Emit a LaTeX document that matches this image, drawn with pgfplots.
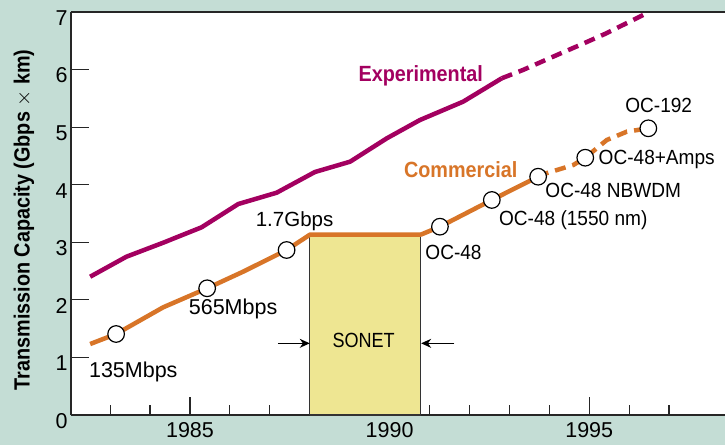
\documentclass[border=0pt]{standalone}
\usepackage{pgfplots}
\pgfplotsset{compat=1.18}
\usetikzlibrary{arrows.meta}
\usepackage{fontspec}
\setmainfont{Liberation Sans}
\newfontfamily\cbf{Liberation Sans}[FakeStretch=0.9]
\newfontfamily\narrowf{Liberation Sans}[FakeStretch=0.93]
\newfontfamily\sonetf{Liberation Sans}[FakeStretch=0.88]
\definecolor{bg}{RGB}{196,221,213}
\definecolor{expc}{RGB}{163,0,96}
\definecolor{comc}{RGB}{216,117,40}
\definecolor{boxc}{RGB}{238,230,146}
\begin{document}
\begin{tikzpicture}
\fill[bg] (-71bp,-30bp) rectangle (654bp,415bp);
\begin{axis}[
  at={(0,0)}, anchor=south west,
  scale only axis, width=654bp, height=403bp,
  xmin=1982.02, xmax=1998.40, ymin=0, ymax=7,
  axis lines=left, axis line style={-, line width=1.5bp, black!85},
  tick align=inside,
  xtick={1985,1990,1995}, minor xtick={1983,...,1997},
  ytick={0,...,7},
  major tick length=18bp, minor tick length=10bp,
  tick style={line width=1.2bp, black!85},
  axis background/.style={fill=white},
  ticklabel style={font=\fontsize{21.5bp}{25bp}\selectfont},
  x tick label style={/pgf/number format/1000 sep={}, yshift=-4bp},
  y tick label style={yshift=-6bp},
  /pgf/number format/assume math mode=true,
  ylabel={Transmission Capacity (Gbps $\times$ km)},
  ylabel style={at={(axis description cs:-0.072,0.484)}, anchor=center, font=\cbf\bfseries\fontsize{22bp}{26bp}\selectfont},
  clip=false,
]
\draw[line width=1.5bp, black!85] (rel axis cs:0,1) -- (rel axis cs:1,1);
% SONET box
\addplot[draw=black!80, line width=1.2bp, fill=boxc] coordinates {(1988,0) (1988,3.10) (1990.78,3.10) (1990.78,0) (1988,0)};
% Experimental
\addplot[expc, line width=4.5bp, line join=round] coordinates {
(1982.50,2.402) (1983.41,2.750) (1984.33,2.993) (1985.29,3.260) (1986.21,3.665) (1987.17,3.861) (1988.13,4.221) (1989.01,4.400) (1989.93,4.806) (1990.76,5.124) (1991.84,5.442) (1992.81,5.849)};
\addplot[expc, line width=4.5bp, dash pattern=on 11bp off 7bp] coordinates {
(1992.81,5.849) (1993.34,5.993) (1994.19,6.253) (1994.77,6.427) (1995.39,6.618) (1996.35,6.948)};
% Commercial
\addplot[comc, line width=4.5bp, line join=round] coordinates {
(1982.50,1.233) (1983.15,1.407) (1984.33,1.871) (1985.43,2.201) (1986.33,2.489) (1987.42,2.866) (1988.01,3.135) (1990.79,3.135) (1991.26,3.271) (1992.56,3.735) (1993.72,4.139)};
\addplot[comc, line width=4.5bp, dash pattern=on 11bp off 7bp] coordinates {
(1993.72,4.139) (1993.92,4.198) (1994.60,4.342) (1994.90,4.469) (1995.44,4.777) (1995.94,4.921) (1996.48,4.980)};
% circles
\addplot[only marks, mark=*, mark size=8.3bp, mark options={fill=white, draw=black, line width=1.2bp}] coordinates {
(1983.15,1.407) (1985.43,2.201) (1987.42,2.866) (1991.26,3.271) (1992.56,3.735) (1993.72,4.139) (1994.90,4.469) (1996.48,4.980)};
% arrows
\draw[-{Stealth[length=10bp,width=9bp]}, line width=1.2bp] (axis cs:1987.2,1.245) -- (axis cs:1988,1.245);
\draw[-{Stealth[length=10bp,width=9bp]}, line width=1.2bp] (axis cs:1991.62,1.245) -- (axis cs:1990.79,1.245);
% labels
\node[font=\fontsize{21.5bp}{25bp}\selectfont] at (axis cs:1983.58,0.756) {135Mbps};
\node[font=\fontsize{21.5bp}{25bp}\selectfont] at (axis cs:1986.08,1.841) {565Mbps};
\node[font=\fontsize{20.5bp}{24bp}\selectfont] at (axis cs:1987.62,3.361) {1.7Gbps};
\node[font=\narrowf\fontsize{20.5bp}{24bp}\selectfont] at (axis cs:1991.60,2.823) {OC-48};
\node[font=\narrowf\fontsize{20.5bp}{24bp}\selectfont] at (axis cs:1994.60,3.378) {OC-48 (1550 nm)};
\node[font=\narrowf\fontsize{20.5bp}{24bp}\selectfont] at (axis cs:1995.60,3.90) {OC-48 NBWDM};
\node[font=\narrowf\fontsize{20.5bp}{24bp}\selectfont] at (axis cs:1996.69,4.443) {OC-48+Amps};
\node[font=\narrowf\fontsize{20.5bp}{24bp}\selectfont] at (axis cs:1996.74,5.385) {OC-192};
\node[font=\sonetf\fontsize{20.5bp}{24bp}\selectfont] at (axis cs:1989.35,1.30) {SONET};
\node[font=\cbf\bfseries\fontsize{22bp}{26bp}\selectfont, text=expc] at (axis cs:1990.78,5.892) {Experimental};
\node[font=\cbf\bfseries\fontsize{22bp}{26bp}\selectfont, text=comc] at (axis cs:1991.78,4.256) {Commercial};
\end{axis}
\pgfresetboundingbox
\useasboundingbox (-71bp,-30bp) rectangle (654bp,415bp);
\end{tikzpicture}
\end{document}
